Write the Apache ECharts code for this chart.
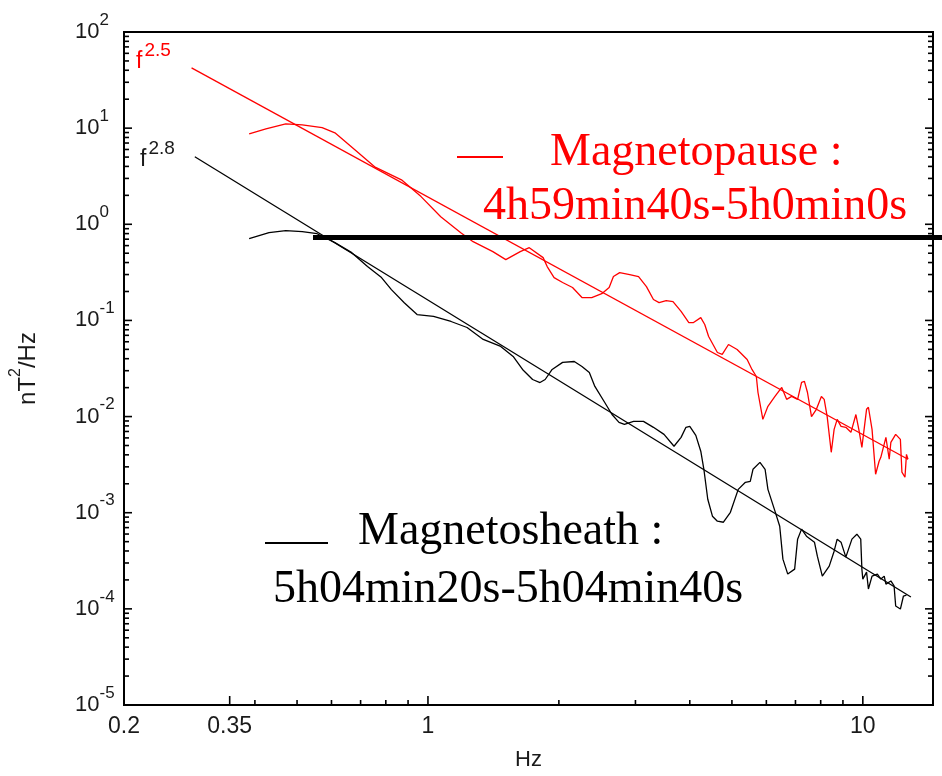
<!DOCTYPE html>
<html><head><meta charset="utf-8">
<script src="https://cdn.jsdelivr.net/npm/echarts@6/dist/echarts.min.js"></script>
<style>html,body{margin:0;padding:0;background:#fff}#c{width:942px;height:776px}</style>
</head><body><div id="c"></div>
<script>
// ---- data (Hz, nT^2/Hz) ----
const pauseFreq = [0.388,0.424,0.471,0.514,0.571,0.611,0.679,0.754,0.869,0.964,1.07,1.19,1.27,1.41,1.51,1.63,1.71,1.84,1.88,1.95,2.04,2.15,2.26,2.38,2.51,2.61,2.67,2.76,2.91,3.05,3.18,3.30,3.40,3.53,3.66,3.82,3.98,4.08,4.24,4.33,4.42,4.63,4.75,4.91,5.14,5.42,5.56,5.69,5.74,5.89,6.05,6.28,6.51,6.68,6.86,7.08,7.23,7.34,7.46,7.62,7.82,8.03,8.15,8.28,8.46,8.59,8.73,8.91,9.14,9.39,9.64,9.79,9.95,10.2,10.3,10.5,10.7,10.9,11.0,11.3,11.5,11.6,11.9,12.2,12.3,12.5,12.6,12.7];
const pausePower = [8.73,9.84,11.1,10.8,10.1,8.93,5.96,3.96,2.90,1.94,1.20,0.818,0.659,0.519,0.429,0.519,0.571,0.450,0.363,0.279,0.248,0.220,0.173,0.173,0.190,0.220,0.286,0.314,0.300,0.286,0.225,0.165,0.153,0.161,0.157,0.124,0.0951,0.0951,0.107,0.0906,0.0680,0.0464,0.0443,0.0562,0.0499,0.0393,0.0309,0.0261,0.0178,0.00935,0.0128,0.0162,0.0201,0.0151,0.0162,0.0151,0.0227,0.0232,0.0178,0.0100,0.0119,0.0162,0.0151,0.0100,0.00425,0.00736,0.00935,0.00791,0.00773,0.00686,0.0105,0.00736,0.00479,0.0119,0.0125,0.00736,0.00251,0.00343,0.00377,0.00608,0.00360,0.00540,0.00653,0.00579,0.00264,0.00234,0.00404,0.00360];
const sheathFreq = [0.388,0.431,0.471,0.514,0.556,0.611,0.668,0.726,0.782,0.824,0.882,0.944,1.03,1.13,1.23,1.34,1.47,1.57,1.65,1.74,1.81,1.86,1.93,2.04,2.17,2.26,2.35,2.42,2.55,2.65,2.75,2.83,2.97,3.13,3.30,3.49,3.68,3.82,3.92,4.00,4.13,4.24,4.31,4.40,4.51,4.63,4.78,4.96,5.17,5.37,5.51,5.59,5.80,5.96,6.05,6.28,6.44,6.55,6.72,6.97,7.08,7.23,7.42,7.74,7.86,8.07,8.37,8.59,8.73,8.91,9.14,9.44,9.69,9.89,9.95,10.0,10.2,10.3,10.5,10.8,11.0,11.2,11.3,11.6,11.8,11.9,12.2,12.4,12.6];
const sheathPower = [0.708,0.818,0.859,0.838,0.798,0.644,0.507,0.363,0.279,0.209,0.153,0.115,0.110,0.0975,0.0844,0.0634,0.0536,0.0422,0.0309,0.0243,0.0226,0.0243,0.0309,0.0366,0.0374,0.0332,0.0288,0.0206,0.0140,0.0105,0.00871,0.00830,0.00891,0.00891,0.00773,0.00653,0.00491,0.00608,0.00773,0.00791,0.00638,0.00436,0.00283,0.00138,0.000920,0.000816,0.000796,0.00101,0.00175,0.00207,0.00212,0.00283,0.00334,0.00283,0.00175,0.00104,0.000724,0.000329,0.000230,0.000259,0.000531,0.000675,0.000570,0.000494,0.000353,0.000219,0.000278,0.000398,0.000531,0.000494,0.000345,0.000531,0.000598,0.000531,0.000259,0.000204,0.000241,0.000161,0.000219,0.000230,0.000204,0.000219,0.000181,0.000195,0.000173,0.000107,0.0000995,0.000136,0.000139];
const pauseFitFreq = [0.286, 12.7];
const pauseFitPower = [42.3, 0.0036];
const sheathFitFreq = [0.291, 12.9];
const sheathFitPower = [5.04, 0.000133];

// ---- ticks / labels ----
const xLabelValues = [0.2, 0.35, 1, 10];
const xLabelTexts = ['0.2', '0.35', '1', '10'];
const xMajorTicks = [0.35, 1, 10];
const xMinorTicks = [0.4, 0.5, 0.6, 0.7, 0.8, 0.9, 2, 3, 4, 5, 6, 7, 8, 9];
const yDecades = [1e-5, 1e-4, 1e-3, 1e-2, 1e-1, 1, 10, 100];
const yExponents = ['-5', '-4', '-3', '-2', '-1', '0', '1', '2'];
const yMinorMultipliers = [2, 3, 4, 5, 6, 7, 8, 9];
const yMinorTicks = [];
yDecades.slice(0, -1).forEach(d => yMinorMultipliers.forEach(m => yMinorTicks.push(m * d)));

const X_MIN = 0.2, X_MAX = 14.5, Y_MIN = 1e-5, Y_MAX = 100;
const SANS = '"Liberation Sans", Arial, sans-serif';
const SERIF = '"Liberation Serif", "Times New Roman", serif';
const TXT = '#1a1a1a';

function pairs(xs, ys) { return xs.map((x, i) => [x, ys[i]]); }
function nearestIdx(arr, v) {
  let best = 0; arr.forEach((a, i) => { if (Math.abs(Math.log(a / v)) < Math.abs(Math.log(arr[best] / v))) best = i; });
  return best;
}

// tick marks drawn through the axes' own scales (api.coord)
function tickSeries(values, side, len) {
  const data = values.map(v => (side === 'bottom' || side === 'top') ? [v, side === 'bottom' ? Y_MIN : Y_MAX]
                                                                    : [side === 'left' ? X_MIN : X_MAX, v]);
  return {
    type: 'custom', xAxisIndex: 0, yAxisIndex: 0, silent: true, clip: false, z: 5,
    data: data,
    renderItem: function (params, api) {
      const p = api.coord([api.value(0), api.value(1)]);
      let dx = 0, dy = 0;
      if (side === 'bottom') dy = -len; else if (side === 'top') dy = len;
      else if (side === 'left') dx = len; else dx = -len;
      return { type: 'line', shape: { x1: p[0], y1: p[1], x2: p[0] + dx, y2: p[1] + dy },
               style: { stroke: '#000', lineWidth: 1.6 } };
    }
  };
}

const option = {
  animation: false,
  backgroundColor: '#fff',
  grid: { left: 116, right: 9, top: 32, bottom: 70, show: true, borderColor: '#000', borderWidth: 2, backgroundColor: 'transparent' },
  xAxis: [{
    type: 'log', logBase: 10, min: X_MIN, max: X_MAX, position: 'bottom',
    axisLine: { show: false }, splitLine: { show: false }, axisTick: { show: false }, minorTick: { show: false },
    axisLabel: {
      show: true, customValues: xLabelValues, margin: 10, fontSize: 23, fontFamily: SANS, color: TXT,
      formatter: v => xLabelTexts[nearestIdx(xLabelValues, v)]
    },
    name: 'Hz', nameLocation: 'middle', nameGap: 44,
    nameTextStyle: { fontSize: 22, fontFamily: SANS, color: TXT }
  }],
  yAxis: [{
    type: 'log', logBase: 10, min: Y_MIN, max: Y_MAX, position: 'left',
    axisLine: { show: false }, splitLine: { show: false }, axisTick: { show: false }, minorTick: { show: false },
    axisLabel: {
      show: true, customValues: yDecades, align: 'left', margin: 49,
      formatter: v => '{b|10}{s|' + yExponents[nearestIdx(yDecades, v)] + '}',
      rich: {
        b: { fontSize: 22, fontFamily: SANS, color: TXT, lineHeight: 24 },
        s: { fontSize: 17, fontFamily: SANS, color: TXT, padding: [0, 0, 24, 0] }
      }
    },
    name: 'nT{s|2}/Hz', nameLocation: 'middle', nameGap: 76, nameRotate: 90,
    nameTextStyle: { fontSize: 24, fontFamily: SANS, color: TXT, rich: {
      s: { fontSize: 16, fontFamily: SANS, color: TXT, padding: [0, 0, 24, 0] }
    } }
  }],
  series: [
    { name: 'Magnetopause fit', type: 'line', data: pairs(pauseFitFreq, pauseFitPower),
      symbol: 'none', lineStyle: { color: '#ff0000', width: 1.3 }, z: 3 },
    { name: 'Magnetopause', type: 'line', data: pairs(pauseFreq, pausePower),
      symbol: 'none', lineStyle: { color: '#ff0000', width: 1.3 }, z: 3 },
    { name: 'Magnetosheath fit', type: 'line', data: pairs(sheathFitFreq, sheathFitPower),
      symbol: 'none', lineStyle: { color: '#000', width: 1.3 }, z: 3 },
    { name: 'Magnetosheath', type: 'line', data: pairs(sheathFreq, sheathPower),
      symbol: 'none', lineStyle: { color: '#000', width: 1.3 }, z: 3 },
    tickSeries(xMajorTicks, 'bottom', 9),
    tickSeries(xMinorTicks, 'bottom', 5),
    tickSeries(yDecades, 'left', 8),
    tickSeries(yMinorTicks, 'left', 5),
    tickSeries(yDecades, 'right', 8),
    tickSeries(yMinorTicks, 'right', 5)
  ],
  graphic: [
    { type: 'text', z: 10, style: { x: 136, y: 62, verticalAlign: 'middle', text: '{f|f}{s|2.5}',
      rich: { f: { fontSize: 23, fontFamily: SANS, fill: '#ff0000', color: '#ff0000', lineHeight: 24 },
              s: { fontSize: 19, fontFamily: SANS, fill: '#ff0000', color: '#ff0000', padding: [0, 0, 22, 2] } } } },
    { type: 'text', z: 10, style: { x: 140, y: 160, verticalAlign: 'middle', text: '{f|f}{s|2.8}',
      rich: { f: { fontSize: 23, fontFamily: SANS, fill: TXT, color: TXT, lineHeight: 24 },
              s: { fontSize: 19, fontFamily: SANS, fill: TXT, color: TXT, padding: [0, 0, 22, 2] } } } },
    { type: 'line', z: 10, shape: { x1: 457, y1: 157, x2: 503, y2: 157 }, style: { stroke: '#ff0000', lineWidth: 2 } },
    { type: 'text', z: 10, style: { x: 550, y: 153, verticalAlign: 'middle', text: 'Magnetopause :', fill: '#ff0000', font: '46px ' + SERIF } },
    { type: 'text', z: 10, style: { x: 483, y: 207, verticalAlign: 'middle', text: '4h59min40s-5h0min0s', fill: '#ff0000', font: '46px ' + SERIF } },
    { type: 'line', z: 10, shape: { x1: 313, y1: 237.5, x2: 942, y2: 237.5 }, style: { stroke: '#000', lineWidth: 5 } },
    { type: 'line', z: 10, shape: { x1: 265, y1: 543, x2: 328, y2: 543 }, style: { stroke: '#000', lineWidth: 2 } },
    { type: 'text', z: 10, style: { x: 358, y: 532, verticalAlign: 'middle', text: 'Magnetosheath :', fill: '#000', font: '46px ' + SERIF } },
    { type: 'text', z: 10, style: { x: 273, y: 590, verticalAlign: 'middle', text: '5h04min20s-5h04min40s', fill: '#000', font: '46px ' + SERIF } }
  ]
};
const chart = echarts.init(document.getElementById('c'), null, { renderer: 'canvas' });
chart.setOption(option);
</script>
</body></html>
